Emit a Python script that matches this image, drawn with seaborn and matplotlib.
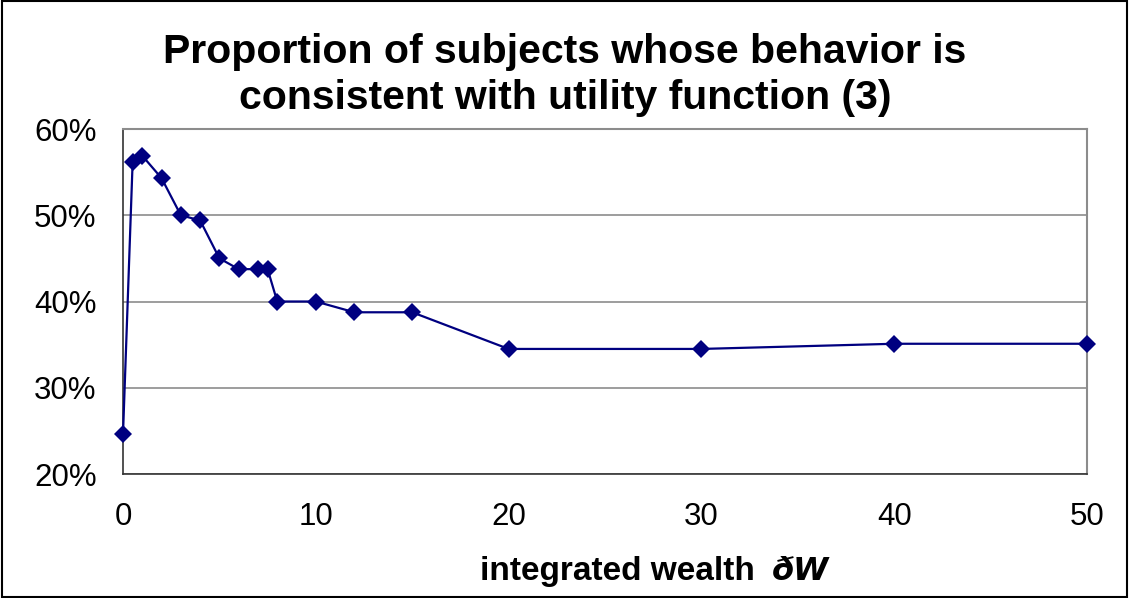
import numpy as np
import pandas as pd
import matplotlib
matplotlib.use("Agg")
import matplotlib.pyplot as plt
from matplotlib.patches import Rectangle
import seaborn as sns

# ============================================================================
# DATA
# ============================================================================

wealth = [0, 0.5, 1, 2, 3, 4, 5, 6, 7, 7.5, 8, 10, 12, 15, 20, 30, 40, 50]
share_pct = [24.6, 56.2, 56.9, 54.3, 50.0, 49.4, 45.0, 43.75, 43.75, 43.75,
             40.0, 40.0, 38.75, 38.75, 34.5, 34.5, 35.1, 35.1]

x_ticks = [0, 10, 20, 30, 40, 50]
y_ticks = [20, 30, 40, 50, 60]

title_text = "Proportion of subjects whose behavior is\nconsistent with utility function (3)"
xlabel_text = "integrated wealth"
xlabel_symbol = "ðW"

# ============================================================================
# PLOT
# ============================================================================

sns.set_style("white")
plt.rcParams['font.family'] = ['Liberation Sans', 'DejaVu Sans']
plt.rcParams['text.color'] = 'black'

W, H = 1129, 598
fig = plt.figure(figsize=(W / 100, H / 100), dpi=100)
ax = fig.add_axes([123 / W, 1 - 474 / H, (1087 - 123) / W, (474 - 129) / H])

df = pd.DataFrame({"wealth": wealth, "share": share_pct})
sns.lineplot(data=df, x="wealth", y="share", ax=ax, color="#000080",
             linewidth=1.6, marker="D", markersize=9, markeredgewidth=0,
             clip_on=False, zorder=5)

ax.set_xlim(0, 50)
ax.set_ylim(20, 60)
ax.set_xticks(x_ticks)
ax.set_yticks(y_ticks)
ax.set_yticklabels([f"{v}%" for v in y_ticks])
ax.set_xlabel("")
ax.set_ylabel("")

ax.yaxis.grid(True, color="#8c8c8c", linewidth=1.2)
ax.xaxis.grid(False)
ax.tick_params(axis="both", which="major", labelsize=22.5, direction="out",
               length=8, width=1, color="#333333", labelcolor="black")
ax.tick_params(axis="y", pad=11)
ax.tick_params(axis="x", pad=12)

for side in ["top", "right"]:
    ax.spines[side].set_color("#8c8c8c")
    ax.spines[side].set_linewidth(1.5)
for side in ["left", "bottom"]:
    ax.spines[side].set_color("#333333")
    ax.spines[side].set_linewidth(1.2)

fig.text(565 / W, 1 - 75 / H, title_text, ha="center", va="center",
         fontsize=29.5, fontweight="bold", linespacing=1.27, color="black")

fig.text(480 / W, 1 - 580 / H, xlabel_text, ha="left", va="baseline",
         fontsize=24, fontweight="bold", color="black")
fig.text(772 / W, 1 - 580 / H, xlabel_symbol, ha="left", va="baseline",
         fontsize=23, fontweight="bold", fontstyle="italic", color="black",
         family=["DejaVu Sans"])

# outer chart border
fig.patches.append(Rectangle((0.002, 0.002), 0.996, 0.996, transform=fig.transFigure,
                             fill=False, edgecolor="black", linewidth=1.5))

fig.savefig("out.png", dpi=100)
